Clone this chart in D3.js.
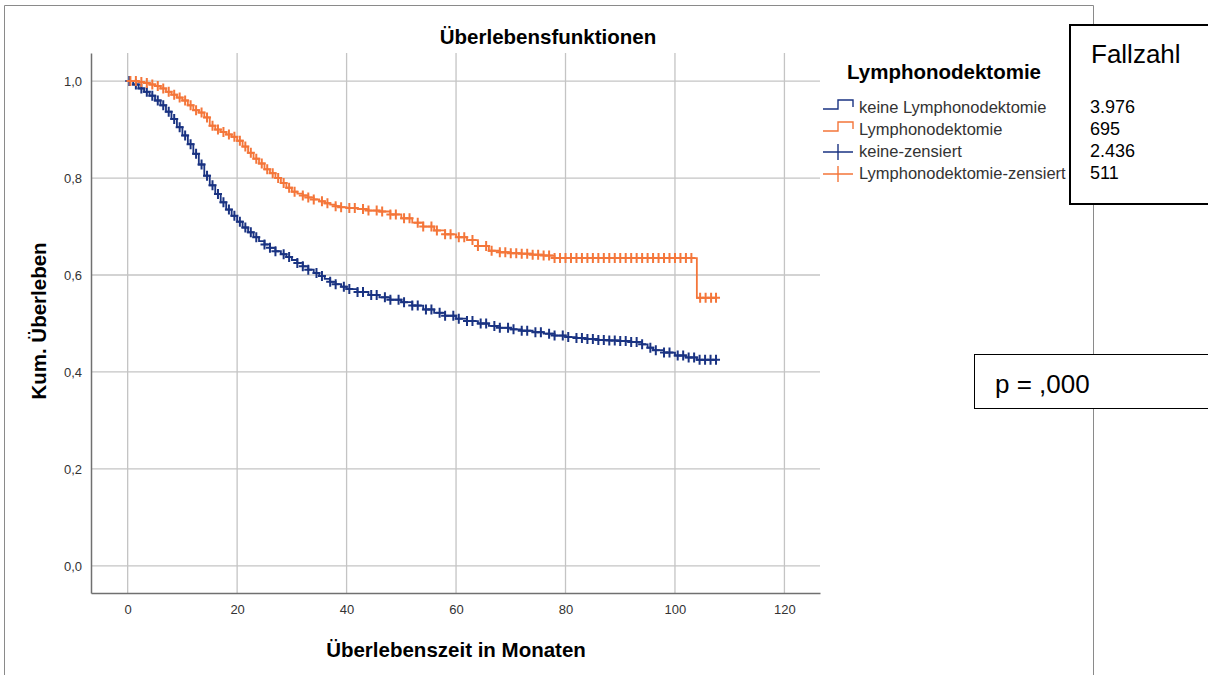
<!DOCTYPE html>
<html>
<head>
<meta charset="utf-8">
<script src="https://cdn.jsdelivr.net/npm/d3@7"></script>
<style>
  body { margin: 0; background: #fff; }
  svg { display: block; font-family: "Liberation Sans", Arial, sans-serif; }
</style>
</head>
<body>
<svg width="1208" height="675"></svg>
<script>
// Kaplan-Meier Stufen: keine Lymphonodektomie
const keineZeit = [0,1,2,3,4,5,6,7,8,9,10,11,12,13,14,15,16,17,18,19,20,21,22,23,24,25,26,27,28,29,30,31,32,33,34,35,36,37,38,39,40,42,44,46,48,50,52,54,56,58,60,62,64,66,68,70,72,74,76,78,80,82,84,86,88,90,92,94,95,96,98,100,102,104,107.5]
const keineWert = [1.000,0.993,0.985,0.978,0.970,0.960,0.950,0.937,0.922,0.905,0.888,0.870,0.850,0.828,0.805,0.785,0.767,0.750,0.735,0.722,0.710,0.698,0.688,0.678,0.670,0.663,0.656,0.649,0.643,0.637,0.631,0.625,0.618,0.611,0.604,0.598,0.592,0.586,0.581,0.576,0.571,0.565,0.559,0.554,0.549,0.544,0.537,0.529,0.522,0.516,0.510,0.505,0.500,0.495,0.491,0.488,0.485,0.482,0.479,0.475,0.472,0.470,0.468,0.466,0.465,0.464,0.462,0.457,0.450,0.445,0.440,0.434,0.430,0.425,0.425]

// Lymphonodektomie
const lymphZeit = [0,1,2,3,4,5,6,7,8,9,10,11,12,13,14,15,16,17,18,19,20,21,22,23,24,25,26,27,28,29,30,31,32,33,34,35,36,37,38,39,40,42,44,46,48,50,52,54,56,58,60,62,64,66,68,70,72,74,76,78,104,107.5]
const lymphWert = [1.000,1.000,0.998,0.996,0.993,0.990,0.985,0.978,0.972,0.966,0.960,0.950,0.940,0.935,0.925,0.908,0.900,0.895,0.890,0.885,0.877,0.865,0.852,0.840,0.830,0.818,0.810,0.800,0.790,0.780,0.772,0.768,0.764,0.760,0.756,0.752,0.748,0.745,0.742,0.740,0.738,0.736,0.733,0.731,0.725,0.717,0.708,0.700,0.692,0.684,0.678,0.672,0.660,0.650,0.647,0.645,0.644,0.642,0.640,0.635,0.553,0.553]

// zensierte Fälle (Zeitpunkte)
const keineZensiert = [0.3,1.5,2.5,3.5,4.5,5.5,6.5,7.5,8.5,9.5,10.5,11.5,12.5,13.5,14.5,15.5,16.5,17.5,18.5,19.5,20.5,21.5,22.5,23.5,25,26,27,28.5,29.5,31,32,33,34.5,35.5,37,38,39.5,40.5,42,43,44.5,45.5,47,48,49.5,50.5,52,53,54.5,55.5,57,58,59.5,60.5,62,63,64.5,65.5,67,68,69.5,70.5,72,73,74.5,75.5,77,78,79.5,80.5,82,83,84,85,86,87,88,89,90,91,92,93,94,95.5,96.5,98,99,100.5,101.5,102.5,103.5,104.5,105.5,106.5,107.5]
const lymphZensiert = [0.5,1.5,2.5,3.5,4.5,5.5,6.5,7.5,8.5,9.5,10.5,11.5,12.5,13.5,14.5,15.5,16.5,17.5,18.5,19.5,20.5,21.5,22.5,23.5,24.5,25.5,26.5,27.5,28.5,29.5,30.5,32,33,34,35.5,36.5,38,39,40.5,41.5,43,44,45.5,46.5,48,49,50.5,51.5,53,54,55.5,56.5,58,59,60.5,61.5,63,64,65.5,66.5,68,69,70,71,72,73,74,75,76,77,78,79,80,81,82,83,84,85,86,87,88,89,90,91,92,93,94,95,96,97,98,99,100,101,102,103,104.6,105.6,106.6,107.5]

const xTicks = [0,20,40,60,80,100,120]
const yTicks = [0,0.2,0.4,0.6,0.8,1.0]
const legendLabels = ["keine Lymphonodektomie","Lymphonodektomie","keine-zensiert","Lymphonodektomie-zensiert"]
const fallzahlen = ["3.976","695","2.436","511"]

const blau = "#1a3382"
const orange = "#f4763a"

const svg = d3.select("svg")

// äußerer Rahmen
svg.append("path")
  .attr("d", "M4.5,680 V5.5 H1093.5 V680")
  .attr("fill", "none").attr("stroke", "#8a8a8a").attr("stroke-width", 1)

const x = d3.scaleLinear().domain([-6.7, 126.5]).range([91, 820])
const y = d3.scaleLinear().domain([-0.056, 1.058]).range([593, 53])

const komma = d3.formatLocale({ decimal: ",", thousands: ".", grouping: [3], currency: ["", "€"] })

// Gitter
svg.append("g").selectAll("line").data(xTicks).join("line")
  .attr("x1", d => x(d)).attr("x2", d => x(d))
  .attr("y1", y.range()[1]).attr("y2", y.range()[0])
  .attr("stroke", "#c4c4c4").attr("stroke-width", 1.3)
svg.append("g").selectAll("line").data(yTicks).join("line")
  .attr("x1", x.range()[0]).attr("x2", x.range()[1])
  .attr("y1", d => y(d)).attr("y2", d => y(d))
  .attr("stroke", "#c4c4c4").attr("stroke-width", 1.3)

// Achsen
const xAxis = svg.append("g").attr("transform", "translate(0,593)")
  .call(d3.axisBottom(x).tickValues(xTicks).tickSize(0).tickPadding(12).tickFormat(d3.format("d")))
const yAxis = svg.append("g").attr("transform", "translate(91,0)")
  .call(d3.axisLeft(y).tickValues(yTicks).tickSize(0).tickPadding(9).tickFormat(komma.format(".1f")))
;[xAxis, yAxis].forEach(a => {
  a.select(".domain").attr("stroke", "#707070").attr("stroke-width", 1.5)
  a.selectAll("text").attr("font-size", 13).attr("fill", "#333")
    .attr("font-family", "'Liberation Sans', Arial, sans-serif")
})

// Kurven
const stufe = d3.line().curve(d3.curveStepAfter).x(d => x(d[0])).y(d => y(d[1]))
const kurven = [
  { zeit: keineZeit, wert: keineWert, zens: keineZensiert, farbe: blau },
  { zeit: lymphZeit, wert: lymphWert, zens: lymphZensiert, farbe: orange }
]
kurven.forEach(k => {
  const punkte = k.zeit.map((t, i) => [t, k.wert[i]])
  svg.append("path").datum(punkte)
    .attr("fill", "none").attr("stroke", k.farbe).attr("stroke-width", 1.8)
    .attr("d", stufe)
  const bis = d3.bisector(d => d[0]).right
  svg.append("g").selectAll("path").data(k.zens).join("path")
    .attr("transform", t => `translate(${x(t)},${y(punkte[Math.max(0, bis(punkte, t) - 1)][1])})`)
    .attr("d", "M-4,0H4M0,-5V5")
    .attr("stroke", k.farbe).attr("stroke-width", 2).attr("fill", "none")
})

// Titel & Achsenbeschriftungen
svg.append("text").attr("x", 548).attr("y", 44).attr("text-anchor", "middle")
  .attr("font-size", 20.5).attr("font-weight", "bold").text("Überlebensfunktionen")
svg.append("text").attr("x", 456).attr("y", 657).attr("text-anchor", "middle")
  .attr("font-size", 20.5).attr("font-weight", "bold").text("Überlebenszeit in Monaten")
svg.append("text").attr("transform", "translate(46,321) rotate(-90)").attr("text-anchor", "middle")
  .attr("font-size", 20.5).attr("font-weight", "bold").text("Kum. Überleben")

// Legende
svg.append("text").attr("x", 847).attr("y", 79)
  .attr("font-size", 20.5).attr("font-weight", "bold").text("Lymphonodektomie")
const legY = [113, 135, 157, 179]
const legFarbe = [blau, orange, blau, orange]
legendLabels.forEach((lab, i) => {
  const yy = legY[i]
  const sym = i < 2
    ? `M823,${yy - 4}H838V${yy - 13}H853V${yy - 6}`
    : `M823,${yy - 5}H853M838,${yy - 13}V${yy + 3}`
  svg.append("path").attr("d", sym).attr("fill", "none")
    .attr("stroke", legFarbe[i]).attr("stroke-width", 1.4)
  svg.append("text").attr("x", 859).attr("y", yy)
    .attr("font-size", 16.5).attr("fill", "#333")
    .text(lab)
})

// Fallzahl-Kasten
svg.append("rect").attr("x", 1070).attr("y", 25).attr("width", 150).attr("height", 179)
  .attr("fill", "#fff").attr("stroke", "#000").attr("stroke-width", 2)
svg.append("text").attr("x", 1091).attr("y", 63).attr("font-size", 26).text("Fallzahl")
fallzahlen.forEach((n, i) => {
  svg.append("text").attr("x", 1090).attr("y", legY[i]).attr("font-size", 18).text(n)
})

// p-Wert-Kasten
svg.append("rect").attr("x", 974.5).attr("y", 354.5).attr("width", 250).attr("height", 54)
  .attr("fill", "#fff").attr("stroke", "#000").attr("stroke-width", 1)
svg.append("text").attr("x", 995).attr("y", 393).attr("font-size", 26).text("p = ,000")
</script>
</body>
</html>
